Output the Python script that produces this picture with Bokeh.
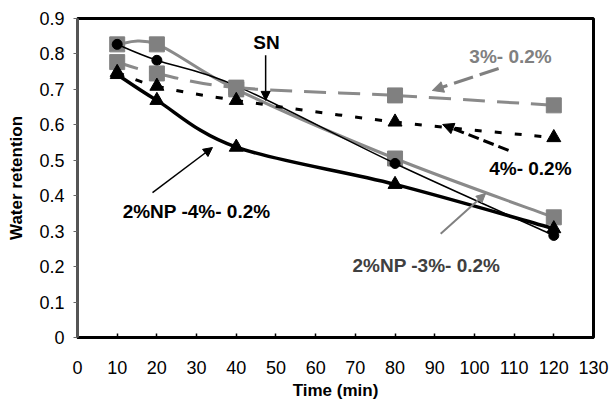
import numpy as np
from bokeh.plotting import figure
from bokeh.models import Label, Arrow, NormalHead, FixedTicker, Range1d
from bokeh.embed import file_html
from bokeh.resources import INLINE

# ---- data ----
time = [10, 20, 40, 80, 120]
sn = [0.827, 0.782, 0.71, 0.491, 0.288]           # SN
np3 = [0.827, 0.827, 0.70, 0.505, 0.339]          # 2%NP -3%- 0.2%
c3 = [0.777, 0.745, 0.705, 0.683, 0.655]          # 3%- 0.2%
c4 = [0.748, 0.709, 0.669, 0.608, 0.564]          # 4%- 0.2%
np4 = [0.742, 0.669, 0.537, 0.432, 0.307]         # 2%NP -4%- 0.2%

x_ticks = [0, 10, 20, 30, 40, 50, 60, 70, 80, 90, 100, 110, 120, 130]
y_ticks = [0, 0.1, 0.2, 0.3, 0.4, 0.5, 0.6, 0.7, 0.8, 0.9]
y_tick_labels = ["0", "0.1", "0.2", "0.3", "0.4", "0.5", "0.6", "0.7", "0.8", "0.9"]
x_title = "Time (min)"
y_title = "Water retention"

FONT = "Liberation Sans"
GRAY = "#8a8a8a"
MGRAY = "#808080"

p = figure(width=610, height=406, output_backend="svg", toolbar_location=None,
           x_range=Range1d(0, 130), y_range=Range1d(0, 0.9),
           min_border_left=77, min_border_right=17, min_border_top=18, min_border_bottom=69)
p.background_fill_color = "white"
p.border_fill_color = "white"
p.xgrid.visible = False
p.ygrid.visible = False
p.outline_line_color = "black"
p.outline_line_width = 3

# axes
p.xaxis.ticker = FixedTicker(ticks=x_ticks)
p.yaxis.ticker = FixedTicker(ticks=y_ticks)
p.yaxis.major_label_overrides = {t: l for t, l in zip(y_ticks, y_tick_labels)}
for ax in (p.xaxis[0], p.yaxis[0]):
    ax.major_label_text_font = FONT
    ax.major_label_text_font_size = "18px"
    ax.major_label_text_color = "black"
    ax.axis_label_text_font = FONT
    ax.axis_label_text_font_style = "bold"
    ax.axis_label_text_font_size = "17px"
    ax.axis_label_text_color = "black"
    ax.minor_tick_line_color = None
p.xaxis.axis_label = x_title
p.yaxis.axis_label = y_title
p.xaxis.axis_line_color = "black"
p.xaxis.axis_line_width = 3
p.xaxis.major_tick_in = 4
p.xaxis.major_tick_out = 0
p.xaxis.major_tick_line_color = "black"
p.xaxis.major_tick_line_width = 1.5
p.xaxis.major_label_standoff = 23
p.xaxis.axis_label_standoff = 4
p.yaxis.axis_line_color = "#555555"
p.yaxis.axis_line_width = 3
p.yaxis.major_tick_in = 0
p.yaxis.major_tick_out = 4
p.yaxis.major_tick_line_color = "#666666"
p.yaxis.major_label_standoff = 9
p.yaxis.axis_label_standoff = 10


def smooth(xs, ys):
    """Bezier segments through the data points (Catmull-Rom style control points)."""
    P = np.column_stack([xs, ys]).astype(float)
    n = len(P)
    x0, y0, x1, y1, cx0, cy0, cx1, cy1 = ([] for _ in range(8))
    for i in range(n - 1):
        pm = P[i - 1] if i > 0 else P[i]
        pp = P[i + 2] if i + 2 < n else P[i + 1]
        c1 = P[i] + (P[i + 1] - pm) / 6.0
        c2 = P[i + 1] - (pp - P[i]) / 6.0
        x0.append(P[i][0]); y0.append(P[i][1])
        x1.append(P[i + 1][0]); y1.append(P[i + 1][1])
        cx0.append(c1[0]); cy0.append(c1[1])
        cx1.append(c2[0]); cy1.append(c2[1])
    return dict(x0=x0, y0=y0, x1=x1, y1=y1, cx0=cx0, cy0=cy0, cx1=cx1, cy1=cy1)


# 2%NP -3%- 0.2%  (gray solid, squares)
p.bezier(**smooth(time, np3), line_color=GRAY, line_width=3)
p.scatter(time, np3, marker="square", size=15, fill_color=MGRAY, line_color=MGRAY)

# SN (thin black, circles)
p.bezier(**smooth(time, sn), line_color="black", line_width=1.5)
p.scatter(time, sn, marker="circle", size=10, fill_color="black", line_color="black")

# 3%- 0.2% (gray long dash, squares)
p.bezier(**smooth(time, c3), line_color=GRAY, line_width=3, line_dash="22 12")
p.scatter(time, c3, marker="square", size=15, fill_color=MGRAY, line_color=MGRAY)

# 4%- 0.2% (black short dash, triangles)
p.bezier(**smooth(time, c4), line_color="black", line_width=3, line_dash="7 13")
p.scatter(time, c4, marker="triangle", size=14, fill_color="black", line_color="black")

# 2%NP -4%- 0.2% (thick black, triangles)
p.bezier(**smooth(time, np4), line_color="black", line_width=3.5)
p.scatter(time, np4, marker="triangle", size=14, fill_color="black", line_color="black")

# annotations
def lab(x, y, text, color="black"):
    p.add_layout(Label(x=x, y=y, text=text, text_font=FONT, text_font_style="bold",
                       text_font_size="19px", text_color=color,
                       text_align="center", text_baseline="middle"))

lab(47.6, 0.832, "SN")
lab(109.1, 0.793, "3%- 0.2%", MGRAY)
lab(114.1, 0.477, "4%- 0.2%")
lab(30.0, 0.356, "2%NP -4%- 0.2%")
lab(87.9, 0.203, "2%NP -3%- 0.2%", "#404040")


def arrow(xs, ys, xe, ye, color, width, dash="solid", size=9):
    p.add_layout(Arrow(x_start=xs, y_start=ys, x_end=xe, y_end=ye,
                       line_color=color, line_width=width, line_dash=dash,
                       end=NormalHead(size=size, fill_color=color, line_color=color)))

arrow(47.4, 0.796, 47.4, 0.669, "black", 1.5)
arrow(106.1, 0.759, 89.4, 0.697, MGRAY, 3, "20 7", 11)
arrow(108.6, 0.528, 92.0, 0.601, "black", 3, "11 5", 11)
arrow(18.9, 0.409, 34.0, 0.536, "black", 1.5)
arrow(91.5, 0.293, 102.8, 0.406, MGRAY, 2)

open("out.html", "w").write(file_html(p, INLINE))
